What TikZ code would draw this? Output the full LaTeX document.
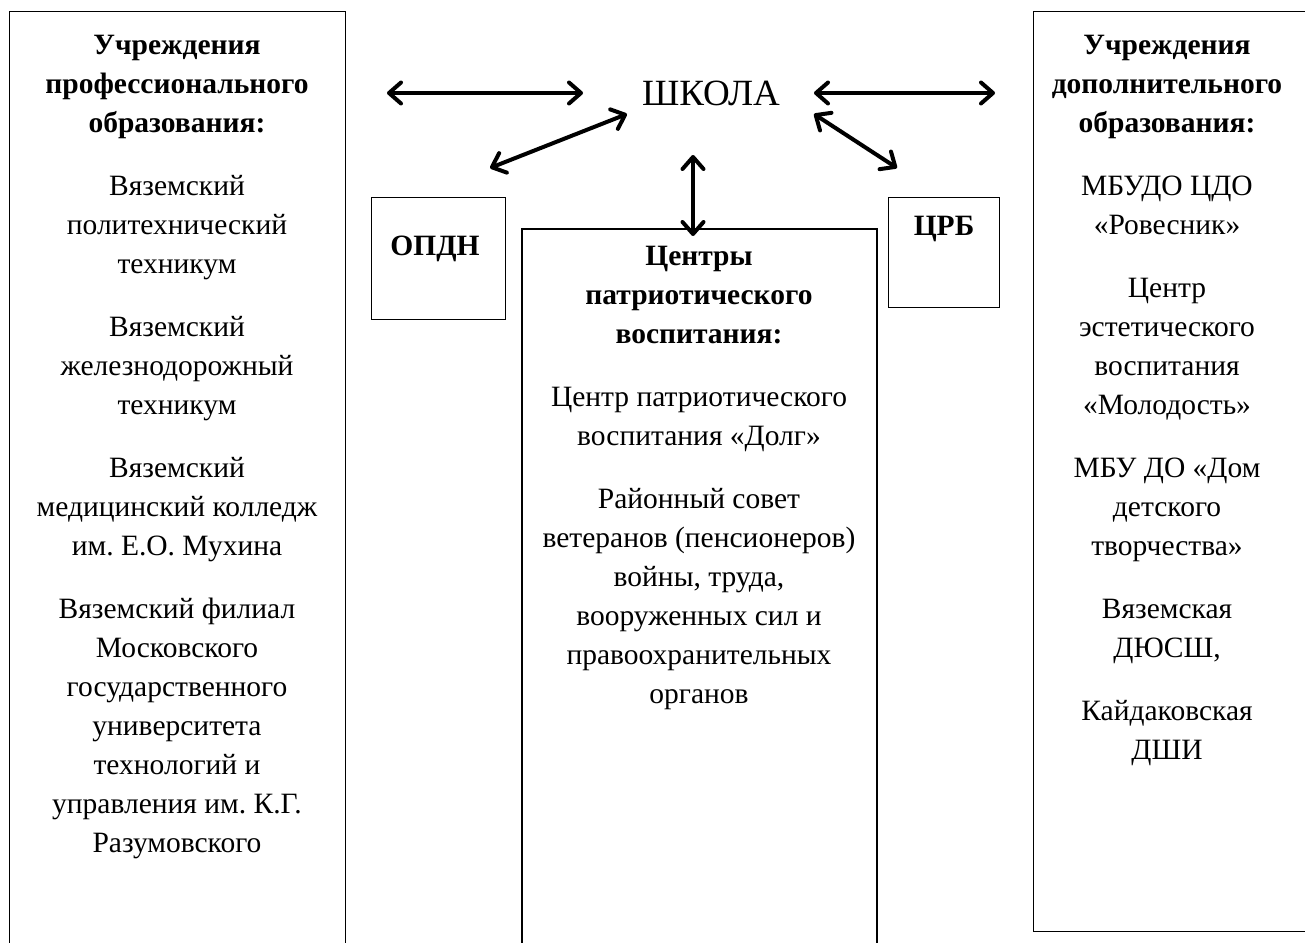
\documentclass[tikz,border=0pt]{standalone}
\usepackage{fontspec}
\setmainfont{Liberation Serif}
\usetikzlibrary{arrows.meta,positioning}
\frenchspacing

\tikzset{
  frame/.style={draw, line width=1pt, inner sep=0pt, anchor=north west},
  body/.style={align=center, inner sep=0pt, anchor=north,
    font=\fontsize{29.5pt}{39pt}\selectfont},
  title/.style={inner sep=0pt, font=\fontsize{29.5pt}{39pt}\selectfont\bfseries},
  twoway/.style={{Straight Barb[length=12pt,width=21pt,round]}-{Straight Barb[length=12pt,width=21pt,round]},
    line width=4pt},
}
\newcommand{\gap}{\\[24pt]}
\newcommand{\firstline}{\rule{0pt}{27pt}}

\begin{document}
\begin{tikzpicture}[x=1pt,y=-1pt]
  \useasboundingbox (0,0) rectangle (1305,942);

  % boxes
  \node[frame, minimum width=336pt, minimum height=960pt] (prof) at (9,11) {};
  \node[frame, minimum width=300pt, minimum height=920pt] (dop) at (1033,11) {};
  \node[frame, line width=1.5pt, minimum width=355pt, minimum height=740pt] (patr) at (521,228) {};
  \node[frame, minimum width=134pt, minimum height=122pt] (opdn) at (371,197) {};
  \node[frame, minimum width=111pt, minimum height=110pt] (crb) at (888,197) {};

  % texts
  \node[inner sep=0pt, font=\fontsize{37pt}{40pt}\selectfont] (school) at (711,93) {ШКОЛА};
  \node[title] (opdntext) at (435,249) {ОПДН};
  \node[title] (crbtext) at (944,229) {ЦРБ};

  \node[body] (proftext) at (177,27) {\firstline\textbf{Учреждения}\\
    \textbf{профессионального}\\\textbf{образования:}\gap
    Вяземский\\политехнический\\техникум\gap
    Вяземский\\железнодорожный\\техникум\gap
    Вяземский\\медицинский колледж\\им. Е.О. Мухина\gap
    Вяземский филиал\\Московского\\государственного\\университета\\технологий и\\управления им. К.Г.\\Разумовского};

  \node[body] (patrtext) at (699,238) {\firstline\textbf{Центры}\\
    \textbf{патриотического}\\\textbf{воспитания:}\gap
    Центр патриотического\\воспитания «Долг»\gap
    Районный совет\\ветеранов (пенсионеров)\\войны, труда,\\вооруженных сил и\\правоохранительных\\органов};

  \node[body] (doptext) at (1167,27) {\firstline\textbf{Учреждения}\\
    \textbf{дополнительного}\\\textbf{образования:}\gap
    МБУДО ЦДО\\«Ровесник»\gap
    Центр\\эстетического\\воспитания\\«Молодость»\gap
    МБУ ДО «Дом\\детского\\творчества»\gap
    Вяземская\\ДЮСШ,\gap
    Кайдаковская\\ДШИ};

  % arrows
  \coordinate (pl) at (387,93);
  \coordinate (pr) at (583,93);
  \coordinate (dl) at (814,93);
  \coordinate (dr) at (995,93);
  \coordinate (ol) at (490,168);
  \coordinate (or) at (627,114);
  \coordinate (cl) at (814,114);
  \coordinate (cr) at (897,168);
  \coordinate (vt) at (693,155);
  \coordinate (vb) at (693,236);
  \draw[twoway] (pl) -- (pr);
  \draw[twoway] (dl) -- (dr);
  \draw[twoway] (ol) -- (or);
  \draw[twoway] (cl) -- (cr);
  \draw[twoway] (vt) -- (vb);
\end{tikzpicture}
\end{document}
